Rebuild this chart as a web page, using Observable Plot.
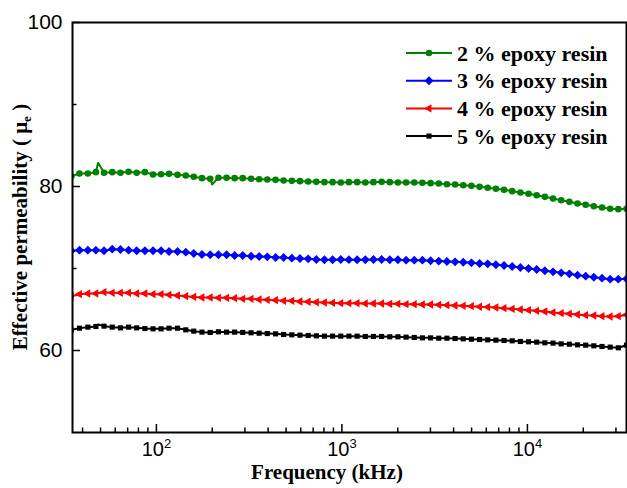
<!DOCTYPE html>
<html><head><meta charset="utf-8">
<script src="https://cdn.jsdelivr.net/npm/d3@7"></script>
<script src="https://cdn.jsdelivr.net/npm/@observablehq/plot@0.6"></script>
<style>
html,body{margin:0;padding:0;background:#fff;}
#chart{width:627px;height:488px;overflow:hidden;}
</style></head><body><div id="chart"></div>
<script>
// ---- data ----
const frequency = [34.8, 38.5, 42.7, 47.2, 52.2, 57.8, 64.0, 70.8, 78.3, 86.7, 95.9,
  106, 117, 130, 144, 159, 176, 195, 216, 239, 264,
  292, 324, 358, 396, 439, 485, 537, 594, 658, 728,
  805, 891, 986, 1091, 1208, 1337, 1479, 1637, 1811, 2004,
  2218, 2455, 2716, 3006, 3327, 3681, 4074, 4508, 4989, 5521,
  6109, 6761, 7482, 8279, 9162, 10139, 11220, 12417, 13740, 15205,
  16827, 18621, 20606, 22803, 25235, 27925, 30903, 34198];

const seriesNames = ["2 % epoxy resin", "3 % epoxy resin", "4 % epoxy resin", "5 % epoxy resin"];

const epoxy2 = [81.26, 81.59, 81.59, 81.75, 81.67, 81.75, 81.67, 81.79, 81.67, 81.75, 81.46,
  81.50, 81.54, 81.42, 81.34, 81.18, 81.02, 80.94, 81.06, 81.06, 81.02,
  81.02, 80.94, 80.89, 80.85, 80.81, 80.73, 80.69, 80.65, 80.61, 80.57,
  80.53, 80.53, 80.49, 80.53, 80.53, 80.49, 80.53, 80.57, 80.53, 80.49,
  80.49, 80.49, 80.45, 80.41, 80.37, 80.28, 80.24, 80.16, 80.08, 79.96,
  79.84, 79.72, 79.59, 79.43, 79.27, 79.11, 78.94, 78.74, 78.54, 78.33,
  78.13, 77.93, 77.77, 77.60, 77.44, 77.28, 77.24, 77.28];

const epoxy3 = [72.16, 72.24, 72.24, 72.24, 72.16, 72.36, 72.32, 72.24, 72.16, 72.16, 72.16,
  72.16, 72.07, 72.07, 71.99, 71.83, 71.71, 71.67, 71.67, 71.67, 71.59,
  71.59, 71.50, 71.46, 71.42, 71.34, 71.34, 71.26, 71.22, 71.18, 71.10,
  71.06, 71.06, 71.10, 71.08, 71.06, 71.06, 71.10, 71.10, 71.06, 71.06,
  71.02, 71.02, 71.02, 70.94, 70.90, 70.85, 70.81, 70.77, 70.69, 70.61,
  70.57, 70.45, 70.37, 70.24, 70.12, 70.00, 69.88, 69.72, 69.59, 69.47,
  69.35, 69.19, 69.07, 68.94, 68.82, 68.70, 68.70, 68.74];

const epoxy4 = [66.59, 66.87, 66.95, 66.95, 67.11, 67.03, 67.03, 67.03, 66.95, 66.95, 66.87,
  66.87, 66.79, 66.71, 66.63, 66.54, 66.46, 66.46, 66.42, 66.42, 66.38,
  66.30, 66.30, 66.22, 66.18, 66.14, 66.06, 66.06, 65.98, 65.94, 65.89,
  65.85, 65.81, 65.77, 65.77, 65.77, 65.73, 65.73, 65.73, 65.69, 65.69,
  65.65, 65.65, 65.61, 65.61, 65.57, 65.53, 65.49, 65.45, 65.41, 65.33,
  65.29, 65.24, 65.16, 65.08, 65.00, 64.92, 64.84, 64.76, 64.63, 64.55,
  64.47, 64.39, 64.31, 64.27, 64.19, 64.15, 64.19, 64.35];

const epoxy5 = [62.52, 62.72, 62.85, 62.93, 62.97, 62.85, 62.76, 62.85, 62.76, 62.68, 62.64,
  62.64, 62.72, 62.72, 62.52, 62.36, 62.24, 62.20, 62.28, 62.24, 62.24,
  62.20, 62.16, 62.11, 62.07, 62.03, 61.95, 61.91, 61.87, 61.83, 61.79,
  61.75, 61.75, 61.75, 61.75, 61.75, 61.71, 61.71, 61.71, 61.67, 61.67,
  61.63, 61.59, 61.54, 61.54, 61.50, 61.50, 61.46, 61.42, 61.38, 61.34,
  61.30, 61.26, 61.22, 61.18, 61.10, 61.06, 61.02, 60.94, 60.90, 60.81,
  60.77, 60.69, 60.65, 60.57, 60.49, 60.41, 60.33, 60.65];

// narrow glitches in the measured traces that fall between plotted markers
const epoxy2GlitchFreq = [48.5, 199.6];
const epoxy2GlitchVal = [82.89, 80.24];
const epoxy5GlitchFreq = [48.5];
const epoxy5GlitchVal = [63.17];

const yTicks = [60, 80, 100];
const yMinorTicks = [70, 90];
const xTicks = [100, 1000, 10000];
const xTickExponents = ["2", "3", "4"];
const xMinorTicks = [40, 50, 60, 70, 80, 90, 200, 300, 400, 500, 600, 700, 800, 900,
  2000, 3000, 4000, 5000, 6000, 7000, 8000, 9000, 20000, 30000];

const xTitle = "Frequency (kHz)";
const yTitleMain = "Effective permeability ( \u03bc";
const yTitleSub = "e";
const yTitleEnd = " )";

// ---- styling ----
const colors = ["#008000", "#0000ff", "#ff0000", "#000000"];
const symbols = ["circle", "diamond2", "triangle", "square"];
const symRadius = [3.3, 4.0, 3.1, 2.9];
const symRotate = [0, 0, -90, 0];
const allSeries = [epoxy2, epoxy3, epoxy4, epoxy5];
const glitches = [[epoxy2GlitchFreq, epoxy2GlitchVal], null, null, [epoxy5GlitchFreq, epoxy5GlitchVal]];

const W = 627, H = 488, mL = 72, mR = 1, mT = 22, mB = 56;
const innerW = W - mL - mR, innerH = H - mT - mB;

const marks = [];
allSeries.forEach((vals, k) => {
  const pts = frequency.map((f, i) => ({f, v: vals[i]}));
  let linePts = pts.slice();
  if (glitches[k]) {
    glitches[k][0].forEach((f, j) => linePts.push({f, v: glitches[k][1][j]}));
    linePts.sort((a, b) => a.f - b.f);
  }
  marks.push(Plot.line(linePts, {x: "f", y: "v", stroke: colors[k], strokeWidth: 2, clip: true}));
  marks.push(Plot.dot(pts, {x: "f", y: "v", symbol: symbols[k], r: symRadius[k], fill: colors[k],
    stroke: "none", rotate: symRotate[k], clip: true}));
});

marks.push(
  Plot.tickX(xTicks, {x: d => d, insetTop: innerH - 8, stroke: "#000", strokeWidth: 1.5}),
  Plot.tickX(xMinorTicks, {x: d => d, insetTop: innerH - 4.5, stroke: "#000", strokeWidth: 1.5}),
  Plot.tickY(yTicks, {y: d => d, insetRight: innerW - 8, stroke: "#000", strokeWidth: 1.5}),
  Plot.tickY(yMinorTicks, {y: d => d, insetRight: innerW - 4.5, stroke: "#000", strokeWidth: 1.5}),
  Plot.axisX(xTicks, {tickSize: 0, tickPadding: 9, tickFormat: d => "10", fontSize: 20, label: null}),
  Plot.axisY(yTicks, {tickSize: 0, tickPadding: 10, fontSize: 21, label: null}),
  Plot.frame({stroke: "#000", strokeWidth: 2})
);

const svg = Plot.plot({
  width: W, height: H,
  marginLeft: mL, marginRight: mR, marginTop: mT, marginBottom: mB,
  style: {fontFamily: "'Liberation Sans', Arial, sans-serif", color: "#000", background: "#fff", overflow: "visible"},
  x: {type: "log", domain: [35.3, 34200]},
  y: {domain: [50, 100]},
  marks
});
document.getElementById("chart").append(svg);

const s = d3.select(svg);
// superscript exponents on x tick labels
s.selectAll('g[aria-label="x-axis tick label"] text').each(function(_, i) {
  const t = d3.select(this);
  t.text(null);
  t.append("tspan").text("10");
  t.append("tspan").attr("dy", -8).attr("font-size", 13).text(xTickExponents[i]);
});

const serif = "'Liberation Serif', 'Times New Roman', serif";
// axis titles
s.append("text").attr("x", 327).attr("y", 479).attr("text-anchor", "middle")
  .attr("font-family", serif).attr("font-weight", "bold").attr("font-size", 21).text(xTitle);
const yt = s.append("text").attr("transform", "translate(27,227) rotate(-90)").attr("text-anchor", "middle")
  .attr("font-family", serif).attr("font-weight", "bold").attr("font-size", 21);
yt.append("tspan").text(yTitleMain);
yt.append("tspan").attr("dy", 4).attr("font-size", 13).text(yTitleSub);
yt.append("tspan").attr("dy", -4).text(yTitleEnd);

// legend
const lx1 = 406, lx2 = 452, ltx = 457, ly0 = 53, ldy = 27.7;
const d3sym = {circle: d3.symbolCircle, diamond2: d3.symbolDiamond2, triangle: d3.symbolTriangle, square: d3.symbolSquare};
seriesNames.forEach((name, k) => {
  const y = ly0 + k * ldy;
  const g = s.append("g");
  g.append("line").attr("x1", lx1).attr("x2", lx2).attr("y1", y).attr("y2", y)
    .attr("stroke", colors[k]).attr("stroke-width", 2);
  g.append("path").attr("d", d3.symbol(d3sym[symbols[k]], Math.PI * symRadius[k] ** 2)())
    .attr("transform", `translate(${(lx1 + lx2) / 2},${y}) rotate(${symRotate[k]})`).attr("fill", colors[k]);
  g.append("text").attr("x", ltx).attr("y", y + 7.5).attr("text-anchor", "start").attr("font-family", serif)
    .attr("font-weight", "bold").attr("font-size", 22).text(name);
});
</script></body></html>
